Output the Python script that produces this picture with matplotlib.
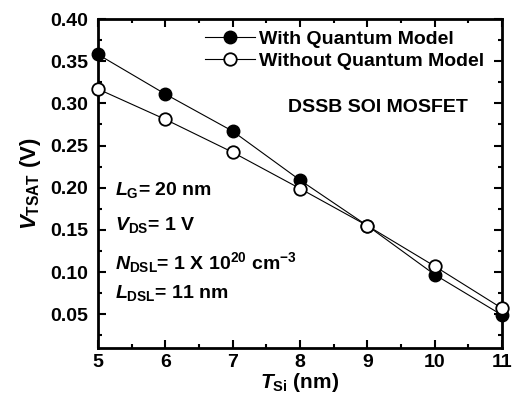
import matplotlib
matplotlib.use("Agg")
import matplotlib.pyplot as plt
from matplotlib.ticker import MultipleLocator

plt.rcParams["font.family"] = "Liberation Sans"
plt.rcParams["font.weight"] = "bold"
plt.rcParams["axes.labelweight"] = "bold"
plt.rcParams["mathtext.fontset"] = "custom"
plt.rcParams["mathtext.rm"] = "Liberation Sans:bold"
plt.rcParams["mathtext.bf"] = "Liberation Sans:bold"
plt.rcParams["mathtext.it"] = "Liberation Sans:bold:italic"

t_si = [5, 6, 7, 8, 9, 10, 11]
with_qm = [0.358, 0.311, 0.267, 0.209, 0.155, 0.097, 0.049]
without_qm = [0.317, 0.281, 0.242, 0.199, 0.155, 0.107, 0.057]

fig = plt.figure(figsize=(5.2, 3.97), dpi=100)
ax = fig.add_axes([98 / 520, 1 - 348 / 397, 404 / 520, 329 / 397])

ax.plot(t_si, with_qm, color="black", lw=0.8, marker="o", ms=9,
        mfc="black", mec="black", label="With Quantum Model", clip_on=False, zorder=3)
ax.plot(t_si, without_qm, color="black", lw=0.8, marker="o", ms=9,
        mfc="white", mec="black", mew=1.3, label="Without Quantum Model", clip_on=False, zorder=3)

ax.set_xlim(5, 11)
ax.set_ylim(0.01, 0.40)
ax.xaxis.set_major_locator(MultipleLocator(1))
ax.xaxis.set_minor_locator(MultipleLocator(0.5))
ax.yaxis.set_minor_locator(MultipleLocator(0.025))
ax.set_yticks([0.05, 0.10, 0.15, 0.20, 0.25, 0.30, 0.35, 0.40])
ax.set_yticklabels(["0.05", "0.10", "0.15", "0.20", "0.25", "0.30", "0.35", "0.40"])
ax.tick_params(which="both", direction="in", top=True, right=True, width=1.5, labelsize=14)
ax.tick_params(which="major", length=6, pad=7)
ax.tick_params(axis="x", which="major", pad=4)
ax.tick_params(which="minor", length=3)
for s in ax.spines.values():
    s.set_linewidth(2)

ax.set_xlabel(r"$T_{\mathrm{Si}}$ (nm)", fontsize=15, labelpad=0)
ax.set_ylabel(r"$V_{\mathrm{TSAT}}$ (V)", fontsize=16, labelpad=5)

ax.legend(loc="upper right", frameon=False, fontsize=14, handlelength=2.6,
          handletextpad=0.2, borderaxespad=0.2, labelspacing=0.2,
          bbox_to_anchor=(0.985, 1.0))

ax.text(0.693, 0.73, "DSSB SOI MOSFET", transform=ax.transAxes, fontsize=14,
        ha="center", va="center")

notes = [
    r"$L_{\mathrm{G}}$= 20 nm",
    r"$V_{\mathrm{DS}}$= 1 V",
    r"$N_{\mathrm{DSL}}$= 1 X 10$^{20}$ cm$^{-3}$",
    r"$L_{\mathrm{DSL}}$= 11 nm",
]
ys = [0.48, 0.374, 0.261, 0.167]
for txt, yy in zip(notes, ys):
    ax.text(0.042, yy, txt, transform=ax.transAxes, fontsize=14, ha="left", va="center")

fig.savefig("out.png", dpi=100)
